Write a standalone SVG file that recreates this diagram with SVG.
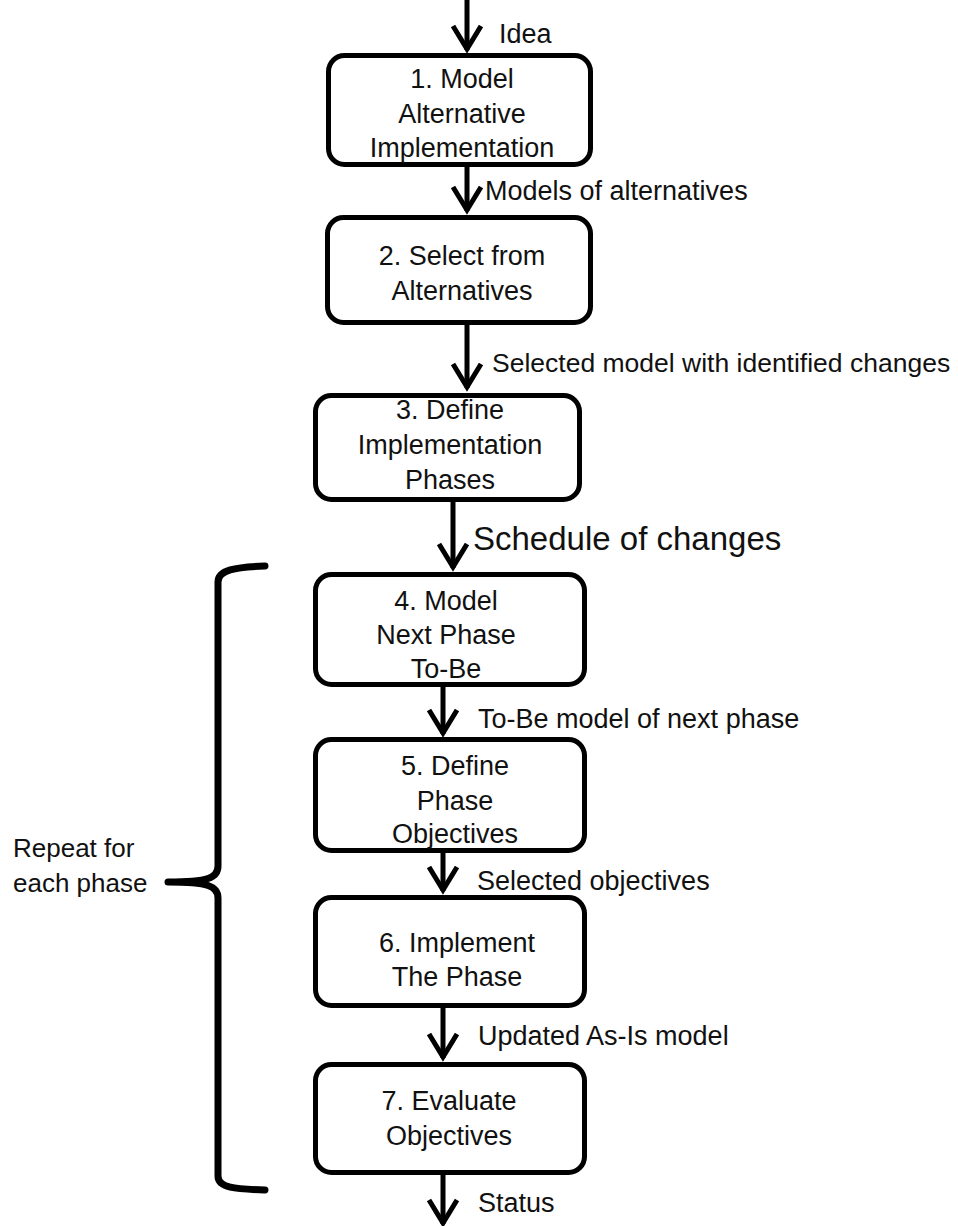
<svg xmlns="http://www.w3.org/2000/svg" width="958" height="1226" viewBox="0 0 958 1226">
<style>
  .box { fill: #fff; stroke: #000; stroke-width: 5; }
  .t { font-family: "Liberation Sans", Arial, sans-serif; font-size: 27px; fill: #111; }
  .c { text-anchor: middle; }
  .big { font-size: 33px; }
  .conn { stroke: #000; stroke-width: 5; fill: none; }
  .brace { stroke: #000; stroke-width: 7; fill: none; stroke-linecap: round; stroke-linejoin: round; }
</style>
<defs>
  <marker id="arr" markerUnits="userSpaceOnUse" viewBox="-30 -20 34 40" refX="1" refY="0" markerWidth="34" markerHeight="40" orient="auto" overflow="visible">
    <path d="M -23 -14 L 0 0 L -23 14" fill="none" stroke="#000" stroke-width="5" stroke-linejoin="miter"/>
  </marker>
</defs>
<rect width="958" height="1226" fill="#fff"/>

<g id="connectors">
  <line class="conn" x1="467" y1="0" x2="467" y2="50" marker-end="url(#arr)"/>
  <line class="conn" x1="467" y1="167" x2="467" y2="211" marker-end="url(#arr)"/>
  <line class="conn" x1="467" y1="323" x2="467" y2="388" marker-end="url(#arr)"/>
  <line class="conn" x1="453" y1="502" x2="453" y2="568" marker-end="url(#arr)"/>
  <line class="conn" x1="443" y1="687" x2="443" y2="734" marker-end="url(#arr)"/>
  <line class="conn" x1="443" y1="853" x2="443" y2="891" marker-end="url(#arr)"/>
  <line class="conn" x1="443" y1="1008" x2="443" y2="1058" marker-end="url(#arr)"/>
  <line class="conn" x1="443" y1="1175" x2="443" y2="1224" marker-end="url(#arr)"/>
  <text class="t" x="499" y="43">Idea</text>
  <text class="t" x="485" y="200">Models of alternatives</text>
  <text class="t" x="492" y="372" style="font-size:26.5px">Selected model with identified changes</text>
  <text class="t big" x="473" y="550">Schedule of changes</text>
  <text class="t" x="478" y="728">To-Be model of next phase</text>
  <text class="t" x="477" y="890">Selected objectives</text>
  <text class="t" x="478" y="1045">Updated As-Is model</text>
  <text class="t" x="478" y="1212">Status</text>
</g>

<g id="node1">
  <rect class="box" x="328.5" y="55.5" width="262" height="109" rx="16"/>
  <text class="t c" x="462" y="88">1. Model</text>
  <text class="t c" x="462" y="123">Alternative</text>
  <text class="t c" x="462" y="157">Implementation</text>
</g>
<g id="node2">
  <rect class="box" x="327.5" y="217.5" width="263" height="105" rx="16"/>
  <text class="t c" x="462" y="265">2. Select from</text>
  <text class="t c" x="462" y="300">Alternatives</text>
</g>
<g id="node3">
  <rect class="box" x="315.5" y="395.5" width="264" height="104" rx="16"/>
  <text class="t c" x="450" y="419">3. Define</text>
  <text class="t c" x="450" y="454">Implementation</text>
  <text class="t c" x="450" y="489">Phases</text>
</g>
<g id="node4">
  <rect class="box" x="315.5" y="574.5" width="269" height="110" rx="16"/>
  <text class="t c" x="446" y="610">4. Model</text>
  <text class="t c" x="446" y="644">Next Phase</text>
  <text class="t c" x="446" y="678">To-Be</text>
</g>
<g id="node5">
  <rect class="box" x="315.5" y="739.5" width="269" height="111" rx="16"/>
  <text class="t c" x="455" y="775">5. Define</text>
  <text class="t c" x="455" y="810">Phase</text>
  <text class="t c" x="455" y="843">Objectives</text>
</g>
<g id="node6">
  <rect class="box" x="315.5" y="897.5" width="269" height="108" rx="16"/>
  <text class="t c" x="457" y="952">6. Implement</text>
  <text class="t c" x="457" y="986">The Phase</text>
</g>
<g id="node7">
  <rect class="box" x="315.5" y="1064.5" width="269" height="108" rx="16"/>
  <text class="t c" x="449" y="1110">7. Evaluate</text>
  <text class="t c" x="449" y="1145">Objectives</text>
</g>

<g id="repeat-brace">
  <path class="brace" d="M 265 566 C 235 567 218 570 218 582 L 218 866 C 218 878 208 882 168 882 C 208 882 218 886 218 898 L 218 1176 C 218 1188 235 1189 265 1190"/>
  <text class="t" x="13" y="857" style="font-size:26px">Repeat for</text>
  <text class="t" x="13" y="892" style="font-size:26px">each phase</text>
</g>
</svg>
